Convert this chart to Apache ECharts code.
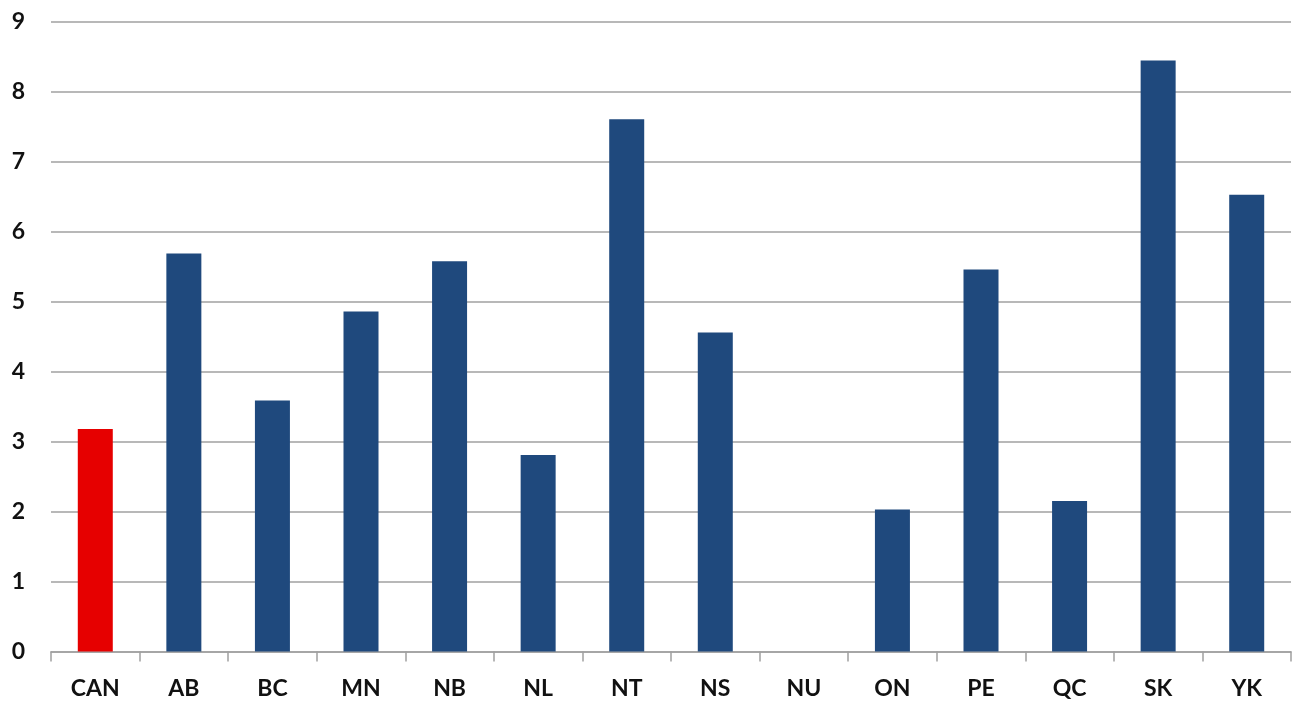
<!DOCTYPE html>
<html>
<head>
<meta charset="utf-8">
<title>Provinces and territories</title>
<script src="https://cdn.jsdelivr.net/npm/echarts@6/dist/echarts.min.js"></script>
<style>
  html, body { margin: 0; padding: 0; background: #ffffff; }
  #chart { width: 1292px; height: 702px; }
</style>
</head>
<body>
<div id="chart"></div>
<script>
// Regions along the x axis (national figure first)
const regions = ['CAN', 'AB', 'BC', 'MN', 'NB', 'NL', 'NT', 'NS', 'NU', 'ON', 'PE', 'QC', 'SK', 'YK'];
// Value per region
const values = [3.18, 5.69, 3.59, 4.86, 5.58, 2.81, 7.61, 4.56, 0, 2.03, 5.46, 2.15, 8.45, 6.53];
// Y axis range and step
const yMin = 0;
const yMax = 9;
const yStep = 1;

const nationalColor = '#e60000';
const regionColor = '#1f497d';
const lineGray = '#a0a0a0';
const fontFamily = 'Lato, "Open Sans", "DejaVu Sans", sans-serif';

const chart = echarts.init(document.getElementById('chart'), null, { renderer: 'canvas' });

chart.setOption({
  animation: false,
  backgroundColor: '#ffffff',
  grid: { left: 51, right: 1, top: 22, bottom: 50.5, containLabel: false },
  xAxis: {
    type: 'category',
    data: regions,
    boundaryGap: true,
    axisLine: { show: true, lineStyle: { color: lineGray, width: 1.5 } },
    axisTick: { show: true, alignWithLabel: false, length: 10, lineStyle: { color: lineGray, width: 1.5 } },
    axisLabel: {
      margin: 26,
      color: '#111111',
      fontFamily: fontFamily,
      fontWeight: 'bold',
      fontSize: 23
    },
    splitLine: { show: false }
  },
  yAxis: {
    type: 'value',
    min: yMin,
    max: yMax,
    interval: yStep,
    axisLine: { show: false },
    axisTick: { show: false },
    axisLabel: {
      margin: 26,
      color: '#111111',
      fontFamily: fontFamily,
      fontWeight: 'bold',
      fontSize: 23
    },
    splitLine: { show: true, lineStyle: { color: lineGray, width: 1.5 } }
  },
  series: [{
    type: 'bar',
    barWidth: 35,
    data: values.map((v, i) => ({
      value: v,
      itemStyle: { color: i === 0 ? nationalColor : regionColor }
    }))
  }]
});
</script>
</body>
</html>
